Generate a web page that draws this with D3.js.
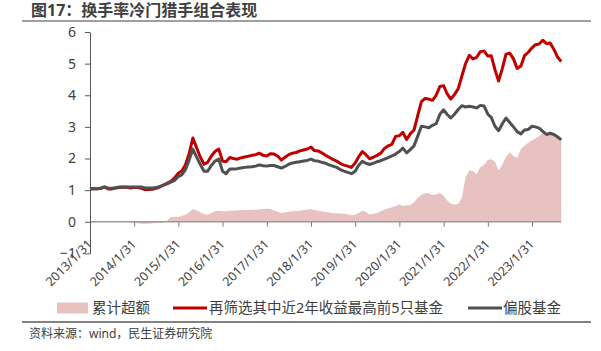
<!DOCTYPE html>
<html><head><meta charset="utf-8">
<script src="https://cdn.jsdelivr.net/npm/d3@7"></script>
<style>
html,body{margin:0;padding:0;background:#fff;}
svg{display:block;font-family:"Noto Sans","Noto Sans CJK SC",sans-serif;}
</style></head>
<body><svg id="c" width="601" height="351"></svg>
<script>
const title = "图17：换手率冷门猎手组合表现";
const source = "资料来源：wind，民生证券研究院";
const seriesNames = ["累计超额", "再筛选其中近2年收益最高前5只基金", "偏股基金"];
const yTicks = [-1, 0, 1, 2, 3, 4, 5, 6];
const xTickLabels = ["2013/1/31","2014/1/31","2015/1/31","2016/1/31","2017/1/31","2018/1/31","2019/1/31","2020/1/31","2021/1/31","2022/1/31","2023/1/31"];
const startMonth = "2013-01";
// monthly (month-end) values, 2013/1 .. 2023/9
const top5 = [1.03,1.05,1.04,1.06,1.10,1.04,1.04,1.07,1.08,1.09,1.09,1.07,
1.08,1.08,1.06,1.02,1.02,1.03,1.06,1.10,1.16,1.22,1.28,1.39,
1.54,1.60,1.80,2.15,2.65,2.35,2.05,1.82,1.88,2.08,2.22,2.30,
1.92,1.90,2.03,2.00,1.98,2.02,2.05,2.07,2.10,2.12,2.17,2.10,
2.08,2.15,2.14,2.08,1.95,2.04,2.12,2.17,2.19,2.24,2.27,2.30,
2.36,2.25,2.24,2.18,2.10,2.04,1.97,1.92,1.84,1.79,1.76,1.72,
1.86,2.05,2.22,2.12,1.99,2.04,2.10,2.17,2.32,2.40,2.45,2.70,
2.72,2.83,2.60,2.78,2.90,3.35,3.80,3.90,3.88,3.84,4.00,4.28,
4.30,4.05,3.88,4.02,4.20,4.60,5.00,5.26,5.15,5.20,5.38,5.40,
5.24,5.25,4.81,4.45,4.85,5.30,5.33,5.15,4.85,4.92,5.25,5.36,
5.50,5.60,5.62,5.74,5.63,5.65,5.45,5.20,5.07];
const equityFund = [1.03,1.05,1.04,1.06,1.10,1.06,1.06,1.08,1.10,1.10,1.10,1.10,
1.10,1.10,1.10,1.07,1.07,1.07,1.08,1.12,1.16,1.20,1.25,1.31,
1.43,1.48,1.65,1.95,2.30,2.05,1.82,1.60,1.60,1.78,1.92,1.98,
1.60,1.52,1.67,1.67,1.68,1.70,1.72,1.73,1.74,1.76,1.80,1.77,
1.76,1.78,1.78,1.74,1.70,1.75,1.82,1.86,1.88,1.90,1.92,1.94,
1.98,1.93,1.92,1.88,1.85,1.80,1.76,1.72,1.65,1.60,1.56,1.52,
1.60,1.78,1.91,1.85,1.81,1.85,1.90,1.93,1.98,2.03,2.08,2.14,
2.22,2.33,2.18,2.28,2.40,2.70,3.02,3.00,2.97,3.05,3.10,3.40,
3.54,3.40,3.28,3.40,3.55,3.67,3.63,3.65,3.63,3.60,3.68,3.66,
3.40,3.30,3.02,2.88,3.10,3.28,3.14,3.00,2.85,2.78,2.90,2.92,
3.02,3.00,2.96,2.86,2.76,2.80,2.76,2.68,2.59];
const excess = [0,0,0,0,0,0,0,0,0,0,0,-0.02,
-0.03,-0.05,-0.06,-0.06,-0.06,-0.05,-0.04,-0.03,-0.02,0.03,0.15,0.16,
0.15,0.18,0.22,0.30,0.40,0.36,0.30,0.24,0.22,0.28,0.33,0.35,
0.33,0.33,0.35,0.36,0.36,0.37,0.37,0.37,0.38,0.38,0.39,0.40,
0.41,0.40,0.36,0.32,0.28,0.29,0.32,0.33,0.34,0.35,0.37,0.38,
0.40,0.37,0.35,0.33,0.31,0.29,0.27,0.27,0.26,0.25,0.24,0.21,
0.22,0.28,0.35,0.31,0.23,0.25,0.28,0.33,0.38,0.42,0.46,0.50,
0.55,0.50,0.52,0.52,0.62,0.75,0.85,0.90,0.90,0.85,0.87,0.91,
0.82,0.68,0.57,0.55,0.56,0.75,1.40,1.63,1.60,1.50,1.72,1.80,
1.95,1.98,1.90,1.62,1.80,2.05,2.20,2.08,2.02,2.30,2.40,2.50,
2.58,2.63,2.70,2.82,2.76,2.75,2.72,2.65,2.54];

const colors = {area:"#e8c1c1", red:"#c00000", grey:"#505050", text:"#404040"};

const svg = d3.select("#c");
const [sy, sm] = startMonth.split("-").map(Number);
const dates = top5.map((_, i) => new Date(sy, sm + i, 0)); // month ends
const tickDates = xTickLabels.map(s => { const [a,b,c] = s.split("/").map(Number); return new Date(a, b-1, c); });

const x = d3.scaleTime().domain([dates[0], dates[dates.length-1]]).range([90, 561.3]);
const y = d3.scaleLinear().domain([-1, 6]).range([253.4, 32]);

// title
svg.append("text").attr("x", 31).attr("y", 16).attr("font-size", 16).attr("font-weight", "bold")
  .attr("fill", colors.text).text(title);
svg.append("line").attr("x1", 22).attr("x2", 591).attr("y1", 21).attr("y2", 21)
  .attr("stroke", "#7f7f7f").attr("stroke-width", 1.5);

// area
const area = d3.area().x((d,i) => x(dates[i])).y0(y(0)).y1(d => y(d));
svg.append("path").datum(excess).attr("d", area).attr("fill", colors.area);

// x axis at 0
const xAxis = d3.axisBottom(x).tickValues(tickDates).tickSize(5).tickFormat("");
const gx = svg.append("g").attr("transform", `translate(0,${y(0)})`).call(xAxis);
gx.select(".domain").attr("stroke", "#9a9a9a").attr("stroke-width", 1.5).attr("d", `M90,0H${x(dates[dates.length-1])}`);
gx.selectAll(".tick line").attr("stroke", "#7f7f7f");

// x labels at bottom rotated
svg.append("g").selectAll("text").data(tickDates).join("text")
  .attr("transform", (d) => `translate(${x(d)+3},${245}) rotate(-45)`)
  .attr("text-anchor", "end").attr("font-size", 12.5).attr("fill", colors.text)
  .text((d,i) => xTickLabels[i]);

// lines
const line = d3.line().x((d,i) => x(dates[i])).y(d => y(d));
svg.append("path").datum(top5).attr("d", line).attr("fill", "none")
  .attr("stroke", colors.red).attr("stroke-width", 3).attr("stroke-linejoin", "round");
svg.append("path").datum(equityFund).attr("d", line).attr("fill", "none")
  .attr("stroke", colors.grey).attr("stroke-width", 3).attr("stroke-linejoin", "round");

// y axis
const gy = svg.append("g").attr("transform", "translate(90,0)")
  .call(d3.axisLeft(y).tickValues(yTicks).tickSize(5).tickPadding(9).tickSizeOuter(0).tickFormat(d3.format("d")));
gy.select(".domain").attr("stroke", "#595959");
gy.selectAll(".tick line").attr("stroke", "#595959");
gy.selectAll(".tick text").attr("font-size", 14).attr("fill", colors.text)
  .attr("font-family", "'Noto Sans','Noto Sans CJK SC',sans-serif");

// legend
const ly = 308;
svg.append("rect").attr("x", 57).attr("y", ly-5.5).attr("width", 31).attr("height", 11).attr("fill", colors.area);
svg.append("text").attr("x", 92).attr("y", ly+5).attr("font-size", 14.5).attr("fill", colors.text).text(seriesNames[0]);
svg.append("line").attr("x1", 173).attr("x2", 207).attr("y1", ly).attr("y2", ly).attr("stroke", colors.red).attr("stroke-width", 3);
svg.append("text").attr("x", 209).attr("y", ly+5).attr("font-size", 14.5).attr("fill", colors.text).text(seriesNames[1]);
svg.append("line").attr("x1", 468).attr("x2", 502).attr("y1", ly).attr("y2", ly).attr("stroke", colors.grey).attr("stroke-width", 3);
svg.append("text").attr("x", 503).attr("y", ly+5).attr("font-size", 14.5).attr("fill", colors.text).text(seriesNames[2]);

// bottom rule + source
svg.append("line").attr("x1", 22).attr("x2", 591).attr("y1", 322).attr("y2", 322)
  .attr("stroke", "#595959").attr("stroke-width", 1.5);
svg.append("text").attr("x", 29).attr("y", 338).attr("font-size", 12).attr("fill", colors.text).text(source);
</script></body></html>
